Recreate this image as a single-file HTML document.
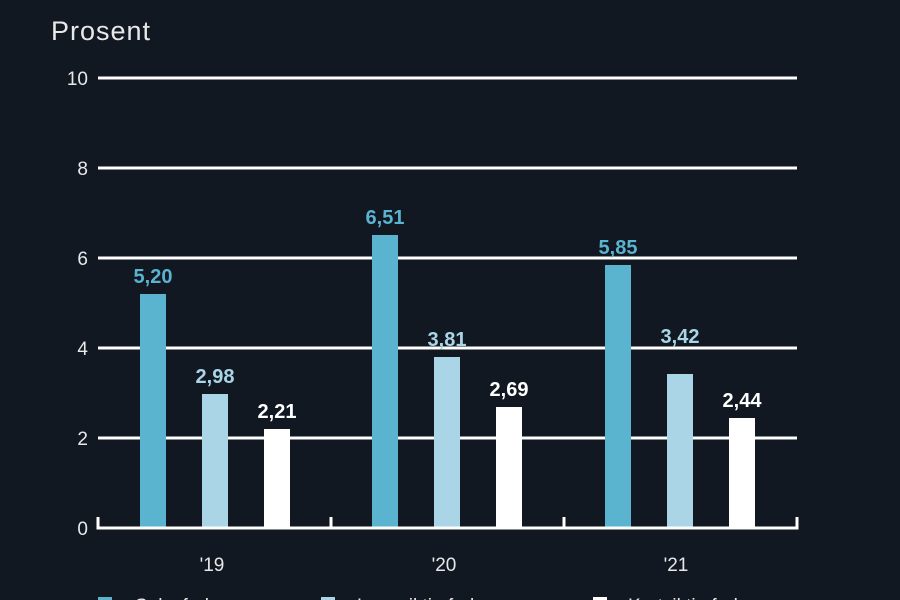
<!DOCTYPE html>
<html><head><meta charset="utf-8"><style>
html,body{margin:0;padding:0;background:#121822;overflow:hidden}
svg{display:block}
text{font-family:"Liberation Sans",sans-serif}
</style></head><body>
<svg width="900" height="600" viewBox="0 0 900 600">
<rect width="900" height="600" fill="#121822"/>
<text x="51" y="40" font-size="27" fill="#e8e8e8" letter-spacing="1">Prosent</text>
<g stroke="#fff" stroke-width="3">
<line x1="98" y1="78" x2="797" y2="78"/>
<line x1="98" y1="168" x2="797" y2="168"/>
<line x1="98" y1="258" x2="797" y2="258"/>
<line x1="98" y1="348" x2="797" y2="348"/>
<line x1="98" y1="438" x2="797" y2="438"/>
</g>
<g font-size="19" fill="#e8e8e8" text-anchor="end">
<text x="88" y="85">10</text><text x="88" y="175">8</text><text x="88" y="265">6</text>
<text x="88" y="355">4</text><text x="88" y="445">2</text><text x="88" y="535">0</text>
</g>
<g>
<rect x="140" y="294" width="26" height="234" fill="#5ab3cf"/>
<rect x="202" y="394" width="26" height="134" fill="#a9d5e6"/>
<rect x="264" y="429" width="26" height="99" fill="#fff"/>
<rect x="372" y="235" width="26" height="293" fill="#5ab3cf"/>
<rect x="434" y="357" width="26" height="171" fill="#a9d5e6"/>
<rect x="496" y="407" width="26" height="121" fill="#fff"/>
<rect x="605" y="265" width="26" height="263" fill="#5ab3cf"/>
<rect x="667" y="374" width="26" height="154" fill="#a9d5e6"/>
<rect x="729" y="418" width="26" height="110" fill="#fff"/>
</g>
<g stroke="#fff" stroke-width="3" fill="none">
<polyline points="98,517 98,528 797,528 797,517"/>
<line x1="331" y1="517" x2="331" y2="528"/>
<line x1="564" y1="517" x2="564" y2="528"/>
</g>
<g font-size="20" font-weight="bold" text-anchor="middle">
<text x="153" y="283" fill="#5ab3cf">5,20</text>
<text x="215" y="383" fill="#a9d5e6">2,98</text>
<text x="277" y="418" fill="#fff">2,21</text>
<text x="385" y="224" fill="#5ab3cf">6,51</text>
<text x="447" y="346" fill="#a9d5e6">3,81</text>
<text x="509" y="396" fill="#fff">2,69</text>
<text x="618" y="254" fill="#5ab3cf">5,85</text>
<text x="680" y="343" fill="#a9d5e6">3,42</text>
<text x="742" y="407" fill="#fff">2,44</text>
</g>
<g font-size="19" fill="#e8e8e8" text-anchor="middle">
<text x="212" y="571">'19</text><text x="444" y="571">'20</text><text x="676" y="571">'21</text>
</g>
<rect x="98" y="597" width="14" height="14" fill="#5ab3cf"/>
<rect x="321" y="597" width="14" height="14" fill="#a9d5e6"/>
<rect x="593" y="597" width="14" height="14" fill="#fff"/>
<g font-size="19" fill="#e8e8e8">
<text x="135" y="612">Salgsfrekvens</text>
<text x="357" y="612">Langsiktig frekvens</text>
<text x="628" y="612">Kortsiktig frekvens</text>
</g>
</svg>
</body></html>
